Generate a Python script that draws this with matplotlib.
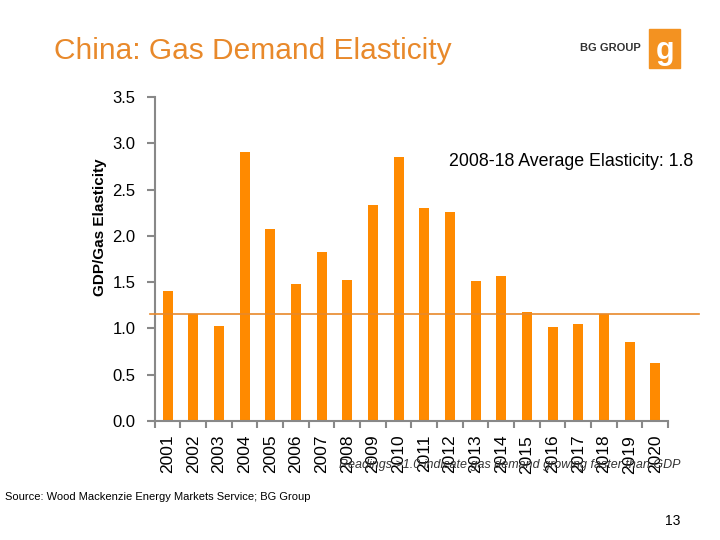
import matplotlib.pyplot as plt
from matplotlib.patches import Rectangle
import numpy as np

plt.rcParams['font.family'] = ['Liberation Sans', 'DejaVu Sans']

years = ['2001', '2002', '2003', '2004', '2005', '2006', '2007', '2008', '2009', '2010',
         '2011', '2012', '2013', '2014', '2015', '2016', '2017', '2018', '2019', '2020']
elasticity = [1.40, 1.16, 1.03, 2.91, 2.07, 1.48, 1.83, 1.52, 2.33, 2.85,
              2.30, 2.26, 1.51, 1.57, 1.18, 1.02, 1.05, 1.16, 0.85, 0.63]
avg_line = 1.16

orange = '#FF8A00'
title_orange = '#E8892B'

fig = plt.figure(figsize=(7.2, 5.4), dpi=100)
ax = fig.add_axes([0.215, 0.2204, 0.713, 0.5996])

x = np.arange(len(years))
ax.bar(x, elasticity, width=0.4, color=orange, zorder=2)
ax.axhline(avg_line, xmin=-0.01, xmax=1.06, color='#E8892B', lw=1.2, zorder=3, clip_on=False)

ax.set_xlim(-0.5, len(years) - 0.5)
ax.set_ylim(0, 3.5)
ax.set_yticks(np.arange(0, 3.51, 0.5))
ax.set_yticklabels(['%.1f' % v for v in np.arange(0, 3.51, 0.5)], fontsize=12)
ax.set_xticks(x)
ax.set_xticklabels(years, rotation=90, fontsize=12.5)
ax.set_xticks(np.arange(-0.5, len(years), 1), minor=True)
ax.tick_params(axis='x', which='major', length=0, pad=10)
ax.tick_params(axis='x', which='minor', length=5, color='#888888', width=1.5)
ax.tick_params(axis='y', length=6, color='#888888', width=1.5, pad=8)

for s in ['top', 'right']:
    ax.spines[s].set_visible(False)
for s in ['left', 'bottom']:
    ax.spines[s].set_color('#888888')
    ax.spines[s].set_linewidth(1.5)

ax.set_ylabel('GDP/Gas Elasticity', fontsize=11, fontweight='bold')
ax.yaxis.set_label_coords(-0.093, 0.6)

fig.text(0.624, 0.692, '2008-18 Average Elasticity: 1.8', fontsize=12.8)
fig.text(0.945, 0.133, 'Readings >1.0 indicate gas demand growing faster than GDP',
         fontsize=9, style='italic', color='#333333', ha='right')

fig.text(0.075, 0.905, 'China: Gas Demand Elasticity', fontsize=21.5, color=title_orange,
         va='center')
fig.text(0.805, 0.912, 'BG GROUP', fontsize=8, fontweight='bold', color='#333333', va='center')
fig.patches.append(Rectangle((0.902, 0.875), 0.043, 0.072, transform=fig.transFigure,
                             color='#F39221', zorder=1))
fig.text(0.9235, 0.905, 'g', fontsize=22, fontweight='bold', color='white',
         ha='center', va='center')

fig.text(0.007, 0.075, 'Source: Wood Mackenzie Energy Markets Service; BG Group', fontsize=8)
fig.text(0.945, 0.028, '13', fontsize=10, ha='right')

plt.savefig('out.png', dpi=100)
